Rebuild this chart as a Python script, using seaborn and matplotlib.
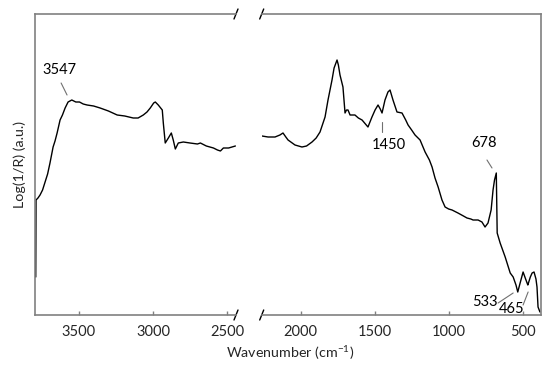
import matplotlib
matplotlib.use("Agg")
import matplotlib.pyplot as plt
import seaborn as sns
import pandas as pd

# ---- data ----
wn_high = [3790, 3788, 3775, 3761, 3744, 3727, 3710, 3694, 3673, 3660, 3646, 3626, 3610,
           3592, 3572, 3547, 3520, 3495, 3470, 3444, 3400, 3356, 3300, 3241, 3190, 3133,
           3100, 3065, 3040, 3018, 2995, 2984, 2964, 2937, 2930, 2917, 2896, 2876, 2863,
           2849, 2829, 2795, 2750, 2700, 2680, 2640, 2592, 2565, 2545, 2525, 2490, 2444]
ab_high = [0.38, 1.15, 1.17, 1.20, 1.25, 1.33, 1.41, 1.52, 1.68, 1.74, 1.82, 1.95, 2.00,
           2.07, 2.13, 2.15, 2.13, 2.13, 2.11, 2.10, 2.09, 2.07, 2.04, 2.00, 1.99, 1.97,
           1.97, 2.00, 2.03, 2.07, 2.12, 2.13, 2.10, 2.05, 1.92, 1.72, 1.77, 1.82, 1.75,
           1.66, 1.72, 1.73, 1.72, 1.71, 1.72, 1.69, 1.67, 1.65, 1.64, 1.67, 1.67, 1.69]

wn_low = [2261, 2220, 2173, 2140, 2119, 2100, 2085, 2038, 1991, 1960, 1923, 1895, 1869,
          1835, 1815, 1788, 1774, 1754, 1745, 1734, 1714, 1700, 1690, 1680, 1666, 1633,
          1610, 1585, 1545, 1518, 1497, 1477, 1462, 1450, 1430, 1410, 1396, 1376, 1349,
          1315, 1290, 1274, 1250, 1227, 1193, 1159, 1130, 1112, 1092, 1071, 1045, 1024,
          1000, 977, 937, 900, 876, 850, 835, 801, 775, 754, 734, 713, 700, 690, 678,
          672, 652, 618, 584, 564, 545, 533, 517, 497, 480, 470, 465, 448, 436, 423,
          410, 403, 396, 383]
ab_low = [1.79, 1.78, 1.78, 1.80, 1.82, 1.78, 1.75, 1.70, 1.68, 1.69, 1.73, 1.77, 1.83,
          1.98, 2.15, 2.35, 2.47, 2.55, 2.50, 2.40, 2.28, 2.02, 2.05, 2.05, 2.00, 2.00,
          1.97, 1.95, 1.88, 1.98, 2.05, 2.10, 2.06, 2.02, 2.15, 2.23, 2.25, 2.15, 2.03,
          2.02, 1.95, 1.90, 1.85, 1.80, 1.75, 1.63, 1.55, 1.48, 1.37, 1.28, 1.15, 1.08,
          1.06, 1.05, 1.02, 0.99, 0.97, 0.96, 0.95, 0.95, 0.93, 0.88, 0.92, 1.05, 1.25,
          1.35, 1.42, 0.82, 0.72, 0.58, 0.42, 0.38, 0.30, 0.23, 0.32, 0.43, 0.36, 0.32,
          0.30, 0.38, 0.42, 0.43, 0.36, 0.28, 0.08, 0.03]

ticks_high = [3500, 3000, 2500]
ticks_low = [2000, 1500, 1000, 500]

# annotations: label, text position (wn, a.u.), leader line start and end
ann_high = [("3547", (3633, 2.45), (3619, 2.32), (3579, 2.20))]
ann_low = [("1450", (1403, 1.70), (1450, 1.93), (1450, 1.83)),
           ("678", (761, 1.72), (741, 1.55), (707, 1.47)),
           ("533", (754, 0.13), (666, 0.12), (564, 0.22)),
           ("465", (572, 0.06), (497, 0.10), (463, 0.23))]

df_high = pd.DataFrame({"wn": wn_high, "ab": ab_high})
df_low = pd.DataFrame({"wn": wn_low, "ab": ab_low})

sns.set_theme(style="white")
plt.rcParams["font.family"] = ["Lato", "DejaVu Sans"]
plt.rcParams["mathtext.default"] = "regular"

W, H = 550, 366
fig = plt.figure(figsize=(W / 100, H / 100), dpi=100)
top, bot = 14, 315
x1l, x1r = 35, 236
x2l, x2r = 261.7, 540.7
ax1 = fig.add_axes([x1l / W, 1 - bot / H, (x1r - x1l) / W, (bot - top) / H])
ax2 = fig.add_axes([x2l / W, 1 - bot / H, (x2r - x2l) / W, (bot - top) / H])

spine_col = "#808080"
fs = 10.5
for ax, df, ticks, xlim in [(ax1, df_high, ticks_high, (3795, 2440)),
                            (ax2, df_low, ticks_low, (2263, 378))]:
    sns.lineplot(data=df, x="wn", y="ab", ax=ax, sort=False, estimator=None,
                 color="black", linewidth=1.0)
    ax.set_xlim(*xlim)
    ax.set_ylim(0, 3.01)
    ax.set_xticks(ticks)
    ax.set_xticklabels([str(t) for t in ticks])
    ax.set_yticks([])
    ax.set_xlabel("")
    ax.set_ylabel("")
    ax.tick_params(axis="x", direction="in", length=3, width=1, color=spine_col,
                   labelsize=fs, pad=7, bottom=True)
    for s in ax.spines.values():
        s.set_color(spine_col)
        s.set_linewidth(1.2)
    ax.set_facecolor("white")

ax1.spines["right"].set_visible(False)
ax2.spines["left"].set_visible(False)

# break marks
def slash(ax, xa, wpx, hpx):
    dx = 2 / wpx
    dy = 5 / hpx
    for ya in (0, 1):
        ax.plot([xa - dx, xa + dx], [ya - dy, ya + dy], transform=ax.transAxes,
                color="black", lw=1.0, clip_on=False)

slash(ax1, 1.0, x1r - x1l, bot - top)
slash(ax2, 0.0, x2r - x2l, bot - top)

for ax, anns in [(ax1, ann_high), (ax2, ann_low)]:
    for label, tpos, p0, p1 in anns:
        ax.text(tpos[0], tpos[1], label, ha="center", va="center", fontsize=fs,
                color="black")
        ax.plot([p0[0], p1[0]], [p0[1], p1[1]], color="#707070", lw=0.8)

fig.text(290 / W, 1 - 353 / H, "Wavenumber (cm$^{-1}$)", ha="center", va="center",
         fontsize=10.3)
fig.text(20 / W, 1 - 165 / H, "Log(1/R) (a.u.)", ha="center", va="center",
         rotation=90, fontsize=10.3)

fig.savefig("out.png", dpi=100, facecolor="white")
